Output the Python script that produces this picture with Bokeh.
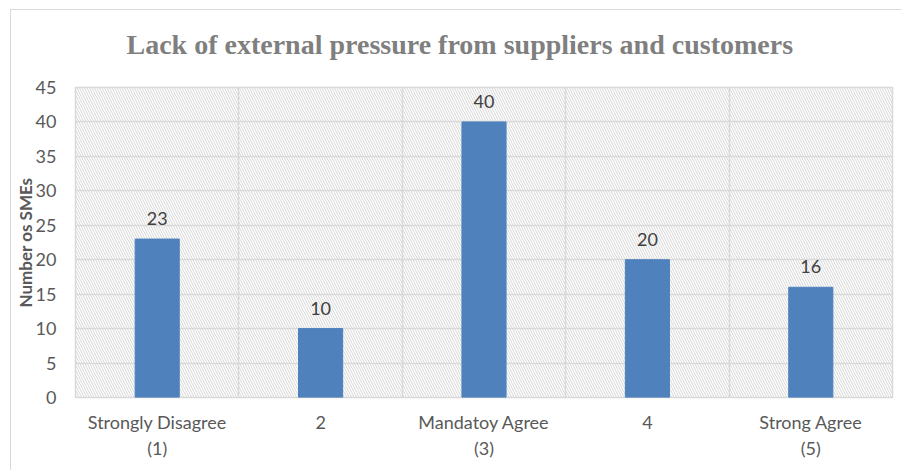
from bokeh.plotting import figure
from bokeh.models import ColumnDataSource, Range1d, FixedTicker, LabelSet, BoxAnnotation, Title
from bokeh.core.properties import value
from bokeh.embed import file_html
from bokeh.resources import INLINE

# ---- data ----
categories = ["Strongly Disagree\n(1)", "2", "Mandatoy Agree\n(3)", "4", "Strong Agree\n(5)"]
counts = [23, 10, 40, 20, 16]
y_ticks = [0, 5, 10, 15, 20, 25, 30, 35, 40, 45]
title_text = "Lack of external pressure from suppliers and customers"
y_label = "Number os SMEs"

n = len(categories)
xs = [i + 0.5 for i in range(n)]
src = ColumnDataSource(dict(x=xs, top=counts, label=[str(v) for v in counts]))

p = figure(width=891, height=461, output_backend="svg", toolbar_location=None,
           x_range=Range1d(0, n), y_range=Range1d(0, y_ticks[-1]),
           min_border_left=64, min_border_right=10, min_border_top=77, min_border_bottom=74,
           title_location=None)
p.margin = (9, 0, 0, 10)
p.styles = {"border-top": "1.5px solid #d9d9d9", "border-left": "1.5px solid #d9d9d9"}

# spacer between frame and title, then the title itself
p.add_layout(Title(text=" ", text_font_size="2px", standoff=24), "above")
p.add_layout(Title(text=title_text, align="left", offset=51, standoff=0,
                   text_font="Liberation Serif", text_font_size="28px",
                   text_font_style="bold", text_color="#7f7f7f"), "above")

# hatched plot background
p.add_layout(BoxAnnotation(level="image", fill_color=None, line_color=None,
                           hatch_pattern="\\", hatch_color="#d6d6d6",
                           hatch_scale=5, hatch_weight=1))

p.vbar(x="x", top="top", width=0.27, color="#4f81bd", source=src)

p.add_layout(LabelSet(x="x", y="top", text="label", source=src,
                      text_align="center", text_baseline="bottom", y_offset=14,
                      text_font=value("Lato"), text_font_size="18px", text_color="#404040"))

# axes
p.yaxis.ticker = FixedTicker(ticks=y_ticks)
p.yaxis.axis_label = y_label
p.yaxis.axis_label_text_font = "Lato"
p.yaxis.axis_label_text_font_size = "17px"
p.yaxis.axis_label_text_font_style = "bold"
p.yaxis.axis_label_text_color = "#595959"
p.yaxis.axis_label_text_line_height = 1.0
p.yaxis.axis_label_standoff = -3

p.xaxis.ticker = FixedTicker(ticks=xs)
p.xaxis.major_label_overrides = {x: c for x, c in zip(xs, categories)}
p.xaxis.major_label_standoff = 13

for ax in (p.xaxis, p.yaxis):
    ax.axis_line_color = None
    ax.major_tick_line_color = None
    ax.minor_tick_line_color = None
    ax.major_tick_out = 0
    ax.major_tick_in = 0
    ax.major_label_text_font = "Lato"
    ax.major_label_text_font_size = "18px"
    ax.major_label_text_color = "#595959"
p.yaxis.major_label_standoff = 19

# grid
p.xgrid.ticker = FixedTicker(ticks=list(range(1, n)))
p.ygrid.ticker = FixedTicker(ticks=y_ticks)
p.grid.grid_line_color = "#d9d9d9"
p.grid.grid_line_width = 1.5
p.outline_line_color = "#d9d9d9"
p.outline_line_width = 1.5

open("out.html", "w").write(file_html(p, INLINE))
